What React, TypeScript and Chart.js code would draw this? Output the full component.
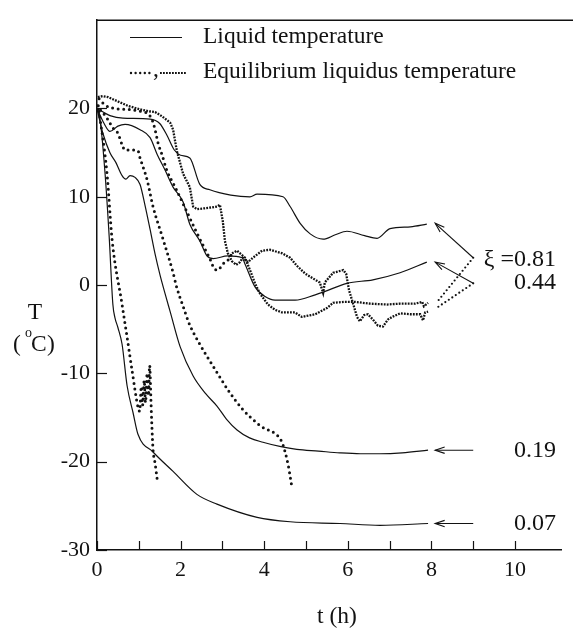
import React, { useEffect, useRef } from "react";
import { Chart, registerables } from "chart.js";

Chart.register(...registerables);

// ---------------- data (t in h, T in °C) ----------------
// Liquid temperature, xi = 0.81
const liq081T = [0, 0.31, 0.62, 1.27, 1.5, 1.67, 1.85, 2.0, 2.22, 2.46, 2.7, 3.2, 3.66, 3.83, 4.45, 4.62, 4.86, 5.1, 5.41, 5.7, 5.98, 6.4, 6.7, 7.01, 7.5, 7.89];
const liq081V = [20, 19.2, 18.9, 18.8, 18.3, 17.0, 15.3, 14.7, 14.4, 11.4, 10.8, 10.2, 10.0, 10.3, 10.0, 8.9, 7.0, 5.8, 5.2, 5.7, 6.1, 5.6, 5.3, 6.4, 6.6, 6.9];
// Liquid temperature, xi = 0.44
const liq044T = [0, 0.17, 0.31, 0.5, 0.67, 1.03, 1.27, 1.44, 1.63, 1.82, 2.06, 2.22, 2.46, 2.63, 2.78, 3.13, 3.47, 3.54, 3.78, 4.02, 4.26, 4.74, 5.22, 5.41, 5.98, 6.6, 7.25, 7.89];
const liq044V = [20, 18.3, 17.4, 18.0, 18.2, 17.6, 16.7, 14.8, 13.0, 11.1, 9.4, 6.9, 5.0, 3.3, 3.0, 3.3, 3.1, 2.4, -0.2, -1.3, -1.7, -1.7, -1.1, -0.8, 0.2, 0.6, 1.4, 2.6];
// Liquid temperature, xi = 0.19
const liq019T = [0, 0.14, 0.31, 0.45, 0.6, 0.69, 0.79, 0.91, 1.03, 1.15, 1.27, 1.39, 1.51, 1.63, 1.75, 1.99, 2.3, 2.6, 2.87, 3.1, 3.35, 3.65, 3.97, 4.4, 4.78, 5.3, 5.81, 6.3, 6.77, 7.3, 7.92];
const liq019V = [20, 17.2, 15.0, 13.9, 12.4, 12.0, 12.4, 12.2, 11.4, 9.0, 6.3, 3.5, 1.1, -1.0, -3.0, -7.0, -10.3, -12.3, -13.7, -15.2, -16.4, -17.3, -17.8, -18.3, -18.6, -18.8, -19.0, -19.1, -19.1, -19.0, -18.7];
// Liquid temperature, xi = 0.07
const liq007T = [0, 0.07, 0.19, 0.29, 0.38, 0.43, 0.5, 0.6, 0.72, 0.86, 0.98, 1.34, 1.82, 2.39, 2.87, 3.83, 4.62, 5.81, 6.77, 7.92];
const liq007V = [20, 18.9, 12.8, 5.6, -2.2, -3.7, -4.8, -6.7, -11.4, -14.4, -16.9, -18.9, -21.1, -23.7, -24.8, -26.3, -26.8, -27.0, -27.2, -27.0];

// Equilibrium liquidus, curve A (dense dots)
const eqAT = [0.02, 0.14, 0.26, 0.5, 0.74, 1.03, 1.22, 1.39, 1.56, 1.75, 1.82, 1.91, 2.06, 2.22, 2.3, 2.39, 2.58, 2.75, 2.87, 2.94, 3.01, 3.06, 3.13, 3.23, 3.33, 3.42, 3.49, 3.61, 3.73, 3.95, 4.14, 4.43, 4.62, 4.78, 4.98, 5.22, 5.33, 5.41, 5.45, 5.65, 5.89, 5.96, 6.03, 6.12, 6.22, 6.29, 6.39, 6.48, 6.6, 6.72, 6.84, 6.96, 7.06, 7.25, 7.49, 7.73, 7.8, 7.85, 7.92];
const eqAV = [21.3, 21.4, 21.3, 20.8, 20.3, 19.9, 19.7, 19.6, 19.1, 18.4, 17.6, 15.2, 12.6, 11.1, 8.9, 8.6, 8.7, 8.8, 8.9, 9.1, 7.2, 5.0, 3.6, 2.7, 2.3, 2.6, 3.1, 2.6, 3.1, 3.9, 4.0, 3.6, 3.1, 2.2, 1.3, 0.6, 0.3, -0.9, 0.3, 1.4, 1.7, 1.3, -0.6, -2.0, -3.6, -4.1, -3.4, -3.3, -3.9, -4.6, -4.7, -3.9, -3.6, -3.2, -3.3, -3.3, -4.0, -3.1, -3.0];
// Equilibrium liquidus, curve B: sparse-dotted part then dense part
const eqBsT = [0.05, 0.19, 0.43, 0.74, 1.03, 1.22, 1.32, 1.39, 1.46, 1.56, 1.67, 1.87, 2.06, 2.22, 2.39, 2.58, 2.7, 2.8, 2.89, 3.01, 3.13, 3.23];
const eqBsV = [21.1, 20.4, 20.0, 19.9, 19.7, 19.4, 18.7, 17.6, 16.1, 14.7, 13.0, 11.1, 9.2, 7.6, 5.9, 4.1, 3.0, 1.9, 1.7, 2.4, 2.8, 3.6];
const eqBdT = [3.23, 3.35, 3.54, 3.66, 3.78, 3.88, 3.95, 4.09, 4.26, 4.43, 4.74, 4.9, 5.22, 5.5, 5.65, 5.93, 6.17, 6.53, 6.94, 7.25, 7.61, 7.78, 7.82, 7.92];
const eqBdV = [3.6, 3.9, 3.1, 1.7, 0.2, -0.8, -1.3, -2.2, -2.8, -3.1, -3.1, -3.6, -3.3, -2.6, -2.0, -1.9, -1.9, -2.1, -2.2, -2.1, -2.1, -1.9, -2.4, -2.0];
// Equilibrium liquidus, xi = 0.19 (sparse dots)
const eq019T = [0, 0.24, 0.38, 0.5, 0.6, 0.67, 0.86, 0.98, 1.03, 1.2, 1.34, 1.58, 1.82, 1.91, 2.06, 2.2, 2.46, 2.78, 3.18, 3.49, 3.9, 4.38, 4.45, 4.57, 4.67];
const eq019V = [20.3, 18.9, 17.8, 17.2, 15.9, 15.3, 15.3, 15.2, 14.4, 11.9, 8.9, 5.2, 1.4, -0.3, -2.4, -4.3, -6.7, -9.2, -12.2, -14.1, -15.9, -17.4, -18.1, -20.3, -23.1];
// Equilibrium liquidus, xi = 0.07 (sparse dots)
const eq007T = [0.03, 0.24, 0.36, 0.6, 0.72, 0.84, 0.98, 1.02, 1.06, 1.09, 1.13, 1.16, 1.2, 1.23, 1.26, 1.29, 1.31, 1.34, 1.39, 1.44];
const eq007V = [20.3, 12.6, 5.2, -2.2, -5.9, -9.7, -13.8, -14.3, -11.5, -13.6, -10.8, -13.3, -10.0, -12.5, -9.1, -13.0, -15.6, -18.6, -20.2, -22.0];

// axes
const X_TICKS = [0, 1, 2, 3, 4, 5, 6, 7, 8, 9, 10];
const X_LABELS = [0, 2, 4, 6, 8, 10];
const Y_TICKS = [-30, -20, -10, 0, 10, 20];

// annotations: label, vertex (t, T), arrow target (t, T), optional dotted target
const annLabels = ["\u03BE =0.81", "0.44", "0.19", "0.07"];
const annLabelT = [2.9, 0.3, -18.7, -27.0];
const annVertexT = [9.0, 9.0, 9.0, 9.0];
const annVertexV = [3.1, 0.2, -18.7, -27.0];
const annArrowT = [8.09, 8.09, 8.09, 8.09];
const annArrowV = [7.0, 2.6, -18.7, -27.0];
const annDotT = [8.12, 8.12];
const annDotV = [-2.0, -2.6];

const INK = "#121212";
const FONT = '"Liberation Serif", "Times New Roman", serif';

const pts = (ts: number[], vs: number[]) => ts.map((t, i) => ({ x: t, y: vs[i] }));

function arrowHead(ctx: CanvasRenderingContext2D, x0: number, y0: number, x1: number, y1: number) {
  const ang = Math.atan2(y1 - y0, x1 - x0);
  const len = 10;
  const spread = 0.32;
  ctx.beginPath();
  ctx.moveTo(x1 - len * Math.cos(ang - spread), y1 - len * Math.sin(ang - spread));
  ctx.lineTo(x1, y1);
  ctx.lineTo(x1 - len * Math.cos(ang + spread), y1 - len * Math.sin(ang + spread));
  ctx.stroke();
}

const decor = {
  id: "decor",
  afterDraw(chart: any) {
    const ctx: CanvasRenderingContext2D = chart.ctx;
    const xs = chart.scales.x;
    const ys = chart.scales.y;
    const ca = chart.chartArea;
    ctx.save();
    ctx.strokeStyle = INK;
    ctx.fillStyle = INK;
    ctx.lineWidth = 1.5;
    // top frame line
    ctx.beginPath();
    ctx.moveTo(ca.left, ca.top);
    ctx.lineTo(chart.width, ca.top);
    ctx.stroke();
    // inward ticks
    ctx.lineWidth = 1.2;
    for (const v of X_TICKS) {
      const px = Math.round(xs.getPixelForValue(v)) + 0.5;
      ctx.beginPath();
      ctx.moveTo(px, ca.bottom);
      ctx.lineTo(px, ca.bottom - 9);
      ctx.stroke();
    }
    for (const v of Y_TICKS) {
      const py = Math.round(ys.getPixelForValue(v)) + 0.5;
      ctx.beginPath();
      ctx.moveTo(ca.left, py);
      ctx.lineTo(ca.left + 10, py);
      ctx.stroke();
    }

    // legend
    ctx.lineWidth = 1.2;
    ctx.beginPath();
    ctx.moveTo(130, 37.5);
    ctx.lineTo(182, 37.5);
    ctx.stroke();
    ctx.save();
    ctx.lineWidth = 2.4;
    ctx.lineCap = "round";
    ctx.setLineDash([0, 4.6]);
    ctx.beginPath();
    ctx.moveTo(131, 73);
    ctx.lineTo(152, 73);
    ctx.stroke();
    ctx.lineCap = "butt";
    ctx.lineWidth = 2.2;
    ctx.setLineDash([1.8, 1.2]);
    ctx.beginPath();
    ctx.moveTo(160, 73);
    ctx.lineTo(186, 73);
    ctx.stroke();
    ctx.restore();
    ctx.font = `23.5px ${FONT}`;
    ctx.textAlign = "left";
    ctx.textBaseline = "middle";
    ctx.fillText(",", 153, 70);
    ctx.fillText("Liquid temperature", 203, 37);
    ctx.fillText("Equilibrium liquidus temperature", 203, 72);

    // axis titles
    ctx.textAlign = "center";
    ctx.fillText("t (h)", 337, 617);
    ctx.fillText("T", 35, 313);
    ctx.textAlign = "left";
    ctx.fillText("(", 13, 345);
    ctx.fillText("C", 31, 345);
    ctx.fillText(")", 47, 345);
    ctx.font = `14px ${FONT}`;
    ctx.fillText("o", 25, 333);

    // annotations
    ctx.lineWidth = 1.1;
    for (let i = 0; i < annLabels.length; i++) {
      const vx = xs.getPixelForValue(annVertexT[i]);
      const vy = ys.getPixelForValue(annVertexV[i]);
      const ax = xs.getPixelForValue(annArrowT[i]);
      const ay = ys.getPixelForValue(annArrowV[i]);
      ctx.beginPath();
      ctx.moveTo(vx, vy);
      ctx.lineTo(ax, ay);
      ctx.stroke();
      arrowHead(ctx, vx, vy, ax, ay);
      if (i < annDotT.length) {
        ctx.save();
        ctx.lineWidth = 2.2;
        ctx.lineCap = "round";
        ctx.setLineDash([0, 4.2]);
        ctx.beginPath();
        ctx.moveTo(vx, vy);
        ctx.lineTo(xs.getPixelForValue(annDotT[i]), ys.getPixelForValue(annDotV[i]));
        ctx.stroke();
        ctx.restore();
      }
      ctx.font = `24px ${FONT}`;
      ctx.textAlign = "right";
      ctx.textBaseline = "middle";
      ctx.fillText(annLabels[i], xs.getPixelForValue(10.98), ys.getPixelForValue(annLabelT[i]));
    }
    ctx.restore();
  },
};

export default function App() {
  const ref = useRef<HTMLCanvasElement | null>(null);
  useEffect(() => {
    document.body.style.margin = "0";
    if (!ref.current) return;
    const solid = (ts: number[], vs: number[]) => ({
      data: pts(ts, vs),
      borderColor: INK,
      borderWidth: 1.2,
      pointRadius: 0,
      cubicInterpolationMode: "monotone" as const,
      fill: false,
    });
    const sparse = (ts: number[], vs: number[]) => ({
      data: pts(ts, vs),
      borderColor: INK,
      borderWidth: 3,
      borderCapStyle: "round" as const,
      borderDash: [0, 5.6],
      pointRadius: 0,
      cubicInterpolationMode: "monotone" as const,
      fill: false,
    });
    const dense = (ts: number[], vs: number[]) => ({
      data: pts(ts, vs),
      borderColor: INK,
      borderWidth: 2.3,
      borderDash: [1.8, 1.2],
      pointRadius: 0,
      tension: 0,
      fill: false,
    });
    const chart = new Chart(ref.current, {
      type: "line",
      data: {
        datasets: [
          solid(liq081T, liq081V),
          solid(liq044T, liq044V),
          solid(liq019T, liq019V),
          solid(liq007T, liq007V),
          dense(eqAT, eqAV),
          sparse(eqBsT, eqBsV),
          dense(eqBdT, eqBdV),
          sparse(eq019T, eq019V),
          sparse(eq007T, eq007V),
        ] as any,
      },
      options: {
        animation: false,
        responsive: false,
        devicePixelRatio: 1,
        layout: { padding: { top: 10, right: 12, left: 0, bottom: 0 } },
        plugins: { legend: { display: false }, tooltip: { enabled: false } },
        scales: {
          x: {
            type: "linear",
            min: 0,
            max: 11.1,
            grid: { display: false, drawTicks: false },
            border: { display: true, color: INK, width: 1.5 },
            afterFit: (s: any) => {
              s.height = 79;
            },
            afterBuildTicks: (s: any) => {
              s.ticks = X_LABELS.map((v) => ({ value: v }));
            },
            ticks: {
              autoSkip: false,
              maxRotation: 0,
              padding: 7,
              color: INK,
              font: { family: FONT, size: 22 },
              callback: (v: any) => String(v),
            },
          },
          y: {
            type: "linear",
            min: -30,
            max: 30,
            grid: { display: false, drawTicks: false },
            border: { display: true, color: INK, width: 1.5 },
            afterFit: (s: any) => {
              s.width = 97;
            },
            afterBuildTicks: (s: any) => {
              s.ticks = Y_TICKS.map((v) => ({ value: v }));
            },
            ticks: {
              autoSkip: false,
              padding: 7,
              color: INK,
              font: { family: FONT, size: 22 },
              callback: (v: any) => String(v),
            },
          },
        },
      },
      plugins: [decor],
    });
    return () => chart.destroy();
  }, []);
  return <canvas ref={ref} width={573} height={629} style={{ display: "block" }} />;
}
